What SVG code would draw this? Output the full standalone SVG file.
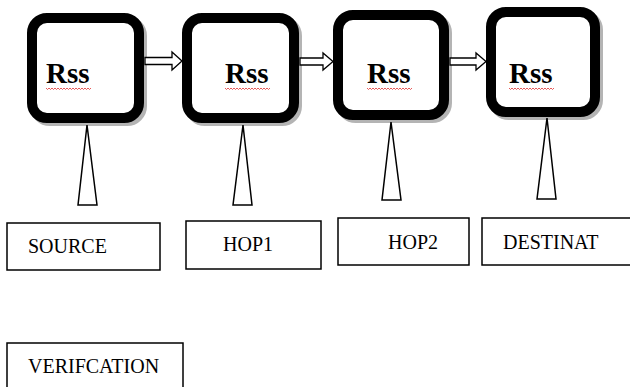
<svg xmlns="http://www.w3.org/2000/svg" width="630" height="387" viewBox="0 0 630 387">
<defs>
<style>
.node{fill:#fff;stroke:#000;stroke-width:10}
.shadow{fill:none;stroke:#b4b4b4;stroke-width:10}
.rss{font-family:'Liberation Serif','Times New Roman','DejaVu Serif',serif;font-weight:bold;font-size:29px;fill:#000}
.squig{fill:none;stroke:#e03030;stroke-width:0.8}
.tri{fill:#fff;stroke:#000;stroke-width:1.5}
.lbox{fill:#fff;stroke:#000;stroke-width:1.5}
.lbl{font-family:'Liberation Serif','Times New Roman','DejaVu Serif',serif;font-size:20px;fill:#000}
.arr{fill:#fff;stroke:#000;stroke-width:1.3}
</style>
</defs>
<rect width="630" height="387" fill="#fff"/>
<g id="rss1">
<rect class="shadow" x="35" y="21" width="107" height="100" rx="15"/>
<rect class="node" x="32" y="18" width="107" height="100" rx="15"/>
<text class="rss" x="46" y="83" font-family="Liberation Serif, serif">Rss</text>
<path class="squig" d="M46 88 l1.5 1.5 l1.5 -1.5 l1.5 1.5 l1.5 -1.5 l1.5 1.5 l1.5 -1.5 l1.5 1.5 l1.5 -1.5 l1.5 1.5 l1.5 -1.5 l1.5 1.5 l1.5 -1.5 l1.5 1.5 l1.5 -1.5 l1.5 1.5 l1.5 -1.5 l1.5 1.5 l1.5 -1.5 l1.5 1.5 l1.5 -1.5 l1.5 1.5 l1.5 -1.5 l1.5 1.5 l1.5 -1.5 l1.5 1.5 l1.5 -1.5 l1.5 1.5 l1.5 -1.5 l1.5 1.5 l1.5 -1.5"/>
</g>
<g id="rss2">
<rect class="shadow" x="190" y="21" width="107" height="100" rx="15"/>
<rect class="node" x="187" y="18" width="107" height="100" rx="15"/>
<text class="rss" x="225" y="83">Rss</text>
<path class="squig" d="M225 88 l1.5 1.5 l1.5 -1.5 l1.5 1.5 l1.5 -1.5 l1.5 1.5 l1.5 -1.5 l1.5 1.5 l1.5 -1.5 l1.5 1.5 l1.5 -1.5 l1.5 1.5 l1.5 -1.5 l1.5 1.5 l1.5 -1.5 l1.5 1.5 l1.5 -1.5 l1.5 1.5 l1.5 -1.5 l1.5 1.5 l1.5 -1.5 l1.5 1.5 l1.5 -1.5 l1.5 1.5 l1.5 -1.5 l1.5 1.5 l1.5 -1.5 l1.5 1.5 l1.5 -1.5 l1.5 1.5 l1.5 -1.5"/>
</g>
<g id="rss3">
<rect class="shadow" x="341" y="18" width="106" height="100" rx="15"/>
<rect class="node" x="338" y="15" width="106" height="100" rx="15"/>
<text class="rss" x="367" y="83">Rss</text>
<path class="squig" d="M367 88 l1.5 1.5 l1.5 -1.5 l1.5 1.5 l1.5 -1.5 l1.5 1.5 l1.5 -1.5 l1.5 1.5 l1.5 -1.5 l1.5 1.5 l1.5 -1.5 l1.5 1.5 l1.5 -1.5 l1.5 1.5 l1.5 -1.5 l1.5 1.5 l1.5 -1.5 l1.5 1.5 l1.5 -1.5 l1.5 1.5 l1.5 -1.5 l1.5 1.5 l1.5 -1.5 l1.5 1.5 l1.5 -1.5 l1.5 1.5 l1.5 -1.5 l1.5 1.5 l1.5 -1.5 l1.5 1.5 l1.5 -1.5"/>
</g>
<g id="rss4">
<rect class="shadow" x="494" y="15" width="104" height="100" rx="15"/>
<rect class="node" x="491" y="12" width="104" height="100" rx="15"/>
<text class="rss" x="509" y="83">Rss</text>
<path class="squig" d="M509 88 l1.5 1.5 l1.5 -1.5 l1.5 1.5 l1.5 -1.5 l1.5 1.5 l1.5 -1.5 l1.5 1.5 l1.5 -1.5 l1.5 1.5 l1.5 -1.5 l1.5 1.5 l1.5 -1.5 l1.5 1.5 l1.5 -1.5 l1.5 1.5 l1.5 -1.5 l1.5 1.5 l1.5 -1.5 l1.5 1.5 l1.5 -1.5 l1.5 1.5 l1.5 -1.5 l1.5 1.5 l1.5 -1.5 l1.5 1.5 l1.5 -1.5 l1.5 1.5 l1.5 -1.5 l1.5 1.5 l1.5 -1.5"/>
</g>
<g id="connectors">
<path class="arr" d="M145 57.5 H172 V52 L182 61 L172 70 V64.5 H145 Z"/>
<path class="arr" d="M300 58 H323 V53 L333 61.5 L323 70 V65 H300 Z"/>
<path class="arr" d="M450 58 H476 V53 L486 61.5 L476 70 V65 H450 Z"/>
<path class="tri" d="M87 125 L97 205 H78 Z"/>
<path class="tri" d="M243 125 L252 205 H233 Z"/>
<path class="tri" d="M391 122 L401 200 H382 Z"/>
<path class="tri" d="M547 118 L556 199 H537 Z"/>
</g>
<g id="source">
<rect class="lbox" x="7" y="223" width="153" height="47"/>
<text class="lbl" x="28" y="253">SOURCE</text>
</g>
<g id="hop1">
<rect class="lbox" x="186" y="221" width="135" height="48"/>
<text class="lbl" x="223" y="251">HOP1</text>
</g>
<g id="hop2">
<rect class="lbox" x="338" y="218" width="131" height="47"/>
<text class="lbl" x="388" y="249">HOP2</text>
</g>
<g id="destinat">
<rect class="lbox" x="482" y="218" width="160" height="47"/>
<text class="lbl" x="503" y="249">DESTINAT</text>
</g>
<g id="verification">
<rect class="lbox" x="7" y="343" width="176" height="60"/>
<text class="lbl" x="28" y="373">VERIFCATION</text>
</g>
</svg>
